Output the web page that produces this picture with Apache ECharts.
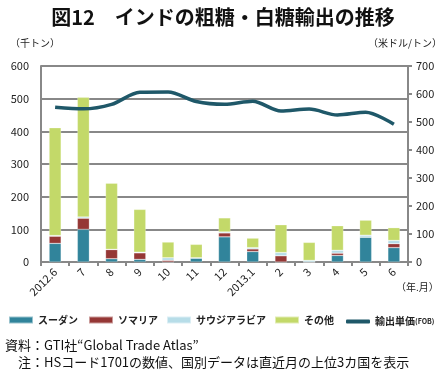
<!DOCTYPE html>
<html><head><meta charset="utf-8">
<script src="https://cdn.jsdelivr.net/npm/echarts@6/dist/echarts.min.js"></script>
<style>html,body{margin:0;padding:0;background:#fff}#c{width:446px;height:378px}</style>
</head><body><div id="c"></div>
<script>
const categories = ['2012.6','7','8','9','10','11','12','2013.1','2','3','4','5','6'];
const sudan  = [57, 100, 10, 8, 0, 12, 77, 32, 0, 0, 20, 76, 44];
const somalia = [22, 34, 28, 20, 5, 0, 12, 8, 19, 0, 7, 0, 12];
const saudi  = [2, 4, 1, 2, 8, 1, 3, 4, 10, 5, 9, 6, 10];
const other  = [330, 366, 202, 131, 48, 41, 43, 29, 85, 55, 75, 46, 39];
const price  = [553, 547, 563, 606, 607, 573, 563, 574, 539, 546, 525, 535, 492];
const leftTicks = [0, 600, 100];
const rightTicks = [0, 700, 100];

const FONT = '"Noto Sans CJK JP", "Noto Sans", sans-serif';
const chart = echarts.init(document.getElementById('c'));
const barBase = {type:'bar', stack:'t', barWidth:12, yAxisIndex:0,
  itemStyle:{borderColor:'rgba(255,255,255,0.5)', borderWidth:0.5}};
const legTxt = {fontFamily:FONT, fontSize:10, fontWeight:'bold', color:'#222',
  rich:{s:{fontSize:7, fontFamily:FONT, fontWeight:'bold', color:'#222'}}};
function leg(name, left, icon, h){
  return {left:left, top:315 + (7 - h) / 2, itemWidth:24, itemHeight:h, itemGap:0, padding:0,
    textStyle:legTxt, data:[{name:name, icon:icon}],
    formatter: n => n === '輸出単価' ? '輸出単価{s|(FOB)}' : n};
}
chart.setOption({
  animation:false,
  textStyle:{fontFamily:FONT},
  title:{text:'図12　インドの粗糖・白糖輸出の推移', left:'center', top:2,
    textStyle:{fontFamily:FONT, fontSize:20, fontWeight:'bold', color:'#111'}},
  grid:{left:41, right:38, top:66, bottom:116},
  legend:[leg('スーダン',8,'rect',7), leg('ソマリア',88,'rect',7), leg('サウジアラビア',166,'rect',7),
          leg('その他',274,'rect',7), leg('輸出単価',346,'roundRect',4)],
  xAxis:{type:'category', data:categories,
    axisLine:{lineStyle:{color:'#888', width:2}},
    axisTick:{show:true, length:4, lineStyle:{color:'#888', width:2}},
    axisLabel:{rotate:45, fontSize:11, color:'#222', margin:8, fontFamily:FONT}},
  yAxis:[
    {type:'value', min:leftTicks[0], max:leftTicks[1], interval:leftTicks[2],
     axisLine:{show:true, lineStyle:{color:'#888', width:2}},
     axisTick:{show:false},
     splitLine:{lineStyle:{color:'#888', width:2}},
     axisLabel:{fontSize:11, color:'#222', margin:12, fontFamily:FONT}},
    {type:'value', min:rightTicks[0], max:rightTicks[1], interval:rightTicks[2],
     axisLine:{show:true, lineStyle:{color:'#888', width:2}},
     axisTick:{show:true, length:4, lineStyle:{color:'#888', width:2}},
     splitLine:{show:false},
     axisLabel:{fontSize:11, color:'#222', margin:8, fontFamily:FONT}}
  ],
  series:[
    Object.assign({}, barBase, {name:'スーダン', data:sudan, itemStyle:Object.assign({}, barBase.itemStyle, {color:'#31849b'})}),
    Object.assign({}, barBase, {name:'ソマリア', data:somalia, itemStyle:Object.assign({}, barBase.itemStyle, {color:'#953735'})}),
    Object.assign({}, barBase, {name:'サウジアラビア', data:saudi, itemStyle:Object.assign({}, barBase.itemStyle, {color:'#b7dde8'})}),
    Object.assign({}, barBase, {name:'その他', data:other, itemStyle:Object.assign({}, barBase.itemStyle, {color:'#c3d969'})}),
    {type:'line', name:'輸出単価', data:price, yAxisIndex:1, smooth:0.3, symbol:'none',
     lineStyle:{color:'#1f5869', width:3.5}, itemStyle:{color:'#1f5869'}}
  ],
  graphic:[
    {type:'text', left:10, top:38, style:{text:'（千トン）', fontSize:10, fontFamily:FONT, fill:'#222'}},
    {type:'text', right:4, top:38, style:{text:'（米ドル/トン）', fontSize:10, fontFamily:FONT, fill:'#222'}},
    {type:'text', left:396, top:282, style:{text:'（年.月）', fontSize:10, fontFamily:FONT, fill:'#222'}},
    {type:'text', left:5, top:339, style:{text:'資料：GTI社“Global Trade Atlas”', fontSize:13, fontFamily:FONT, fill:'#111'}},
    {type:'text', left:18, top:356, style:{text:'注：HSコード1701の数値、国別データは直近月の上位3カ国を表示', fontSize:13, fontFamily:FONT, fill:'#111'}}
  ]
});
</script></body></html>
